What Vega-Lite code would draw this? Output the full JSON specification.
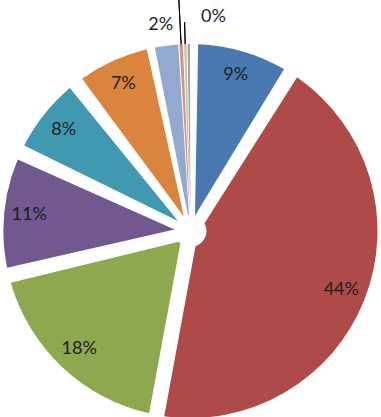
{
  "$schema": "https://vega.github.io/schema/vega-lite/v6.json",
  "width": 381,
  "height": 417,
  "autosize": {"type": "fit", "contains": "padding"},
  "padding": {"top": 41, "left": 1, "right": 0, "bottom": 0},
  "background": "white",
  "config": {"view": {"stroke": null}},
  "data": {
    "values": [
      {"i": 1, "cat": "A", "value": 9.0, "label": "9%"},
      {"i": 2, "cat": "B", "value": 43.9, "label": "44%"},
      {"i": 3, "cat": "C", "value": 18.3, "label": "18%"},
      {"i": 4, "cat": "D", "value": 10.7, "label": "11%"},
      {"i": 5, "cat": "E", "value": 7.6, "label": "8%"},
      {"i": 6, "cat": "F", "value": 7.4, "label": "7%"},
      {"i": 7, "cat": "G", "value": 2.1, "label": "2%"},
      {"i": 8, "cat": "H", "value": 0.4, "label": "0%"},
      {"i": 9, "cat": "I", "value": 0.3, "label": "0%"},
      {"i": 10, "cat": "J", "value": 0.3, "label": "0%"}
    ]
  },
  "encoding": {
    "theta": {"field": "value", "type": "quantitative", "stack": true},
    "order": {"field": "i", "type": "quantitative"}
  },
  "layer": [
    {
      "mark": {"type": "arc", "innerRadius": 16, "outerRadius": 187, "padAngle": 0.082},
      "encoding": {
        "color": {"field": "cat", "type": "nominal", "legend": null,
          "scale": {"domain": ["A","B","C","D","E","F","G","H","I","J"],
            "range": ["#4A78B0","#AE4A47","#8DA84F","#71588F","#4199B1","#DB843D","#93A9CF","#D19392","#B9CD96","#A99BBD"]}},
        "opacity": {"condition": {"test": "datum.i <= 6", "value": 1}, "value": 0}
      }
    },
    {
      "mark": {"type": "arc", "innerRadius": 16, "outerRadius": 187, "padAngle": 0.006},
      "encoding": {
        "color": {"field": "cat", "type": "nominal", "legend": null},
        "opacity": {"condition": {"test": "datum.i >= 7", "value": 1}, "value": 0}
      }
    },
    {
      "mark": {"type": "arc", "innerRadius": 187, "outerRadius": 245, "padAngle": 0.5, "filled": false, "stroke": "#000000", "strokeWidth": 1},
      "encoding": {
        "detail": {"field": "cat", "type": "nominal"},
        "strokeOpacity": {"condition": {"test": "datum.i == 8", "value": 1}, "value": 0}
      }
    },
    {
      "mark": {"type": "arc", "innerRadius": 187, "outerRadius": 209, "padAngle": 0.5, "filled": false, "stroke": "#000000", "strokeWidth": 1},
      "encoding": {
        "detail": {"field": "cat", "type": "nominal"},
        "strokeOpacity": {"condition": {"test": "datum.i == 9", "value": 1}, "value": 0}
      }
    },
    {
      "mark": {"type": "text", "radius": 162, "font": "Lato", "fontSize": 18, "fill": "#1e1e1e"},
      "encoding": {
        "detail": {"field": "cat", "type": "nominal"},
        "text": {"condition": {"test": "datum.i <= 6", "field": "label"}, "value": ""}
      }
    },
    {
      "mark": {"type": "text", "radius": 208, "dx": -3, "font": "Lato", "fontSize": 18, "fill": "#1e1e1e"},
      "encoding": {
        "detail": {"field": "cat", "type": "nominal"},
        "text": {"condition": {"test": "datum.i == 7", "field": "label"}, "value": ""}
      }
    },
    {
      "mark": {"type": "text", "radius": 214, "dx": 29, "font": "Lato", "fontSize": 18, "fill": "#1e1e1e"},
      "encoding": {
        "detail": {"field": "cat", "type": "nominal"},
        "text": {"condition": {"test": "datum.i == 9", "field": "label"}, "value": ""}
      }
    }
  ]
}
